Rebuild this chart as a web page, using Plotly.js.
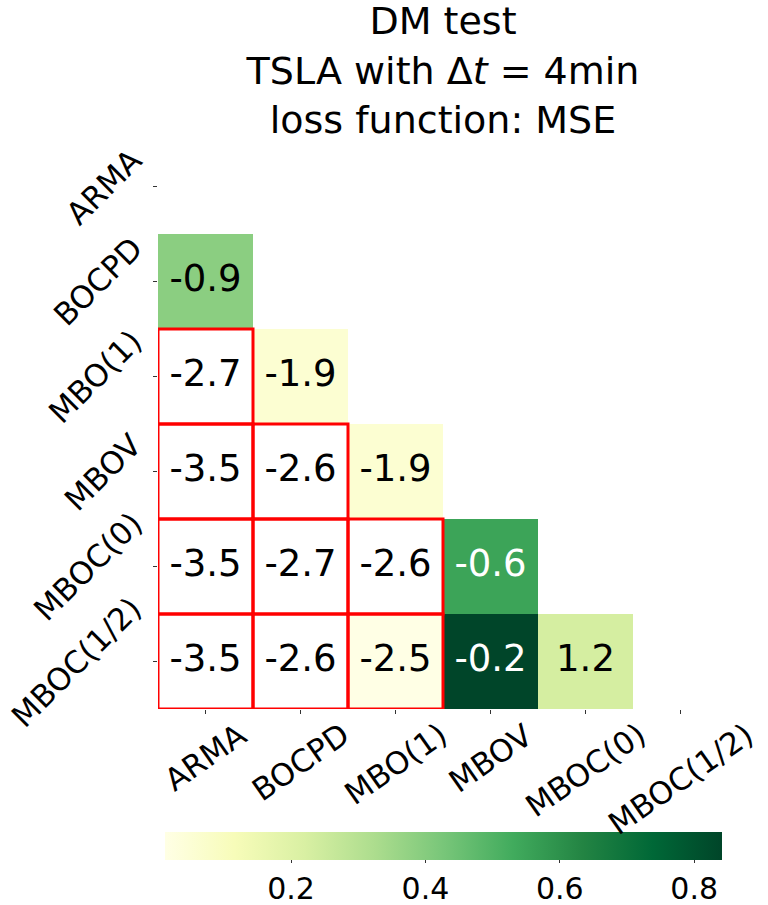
<!DOCTYPE html>
<html>
<head>
<meta charset="utf-8">
<script src="https://cdn.plot.ly/plotly-3.0.1.min.js"></script>
<style>
  html, body { margin: 0; padding: 0; background: #ffffff; }
  #chart { width: 768px; height: 905px; }
</style>
</head>
<body>
<div id="chart"></div>
<script>
// ---- data ----
const models = ['ARMA', 'BOCPD', 'MBO(1)', 'MBOV', 'MBOC(0)', 'MBOC(1/2)'];

// DM statistics, lower triangle (row model vs column model)
const dmBOCPD    = [-0.9];
const dmMBO1     = [-2.7, -1.9];
const dmMBOV     = [-3.5, -2.6, -1.9];
const dmMBOC0    = [-3.5, -2.7, -2.6, -0.6];
const dmMBOChalf = [-3.5, -2.6, -2.5, -0.2, 1.2];

// p-values of the DM test (colour of the cells)
const pBOCPD    = [0.39];
const pMBO1     = [0.007, 0.058];
const pMBOV     = [0.0005, 0.009, 0.058];
const pMBOC0    = [0.0005, 0.007, 0.009, 0.55];
const pMBOChalf = [0.0005, 0.009, 0.013, 0.842, 0.23];

const colorbarTicks = [0.2, 0.4, 0.6, 0.8];

// ---- build ----
const dmRows = [[], dmBOCPD, dmMBO1, dmMBOV, dmMBOC0, dmMBOChalf];
const pRows  = [[], pBOCPD, pMBO1, pMBOV, pMBOC0, pMBOChalf];
const n = models.length;
const idx = models.map((_, i) => i);

const WHITE_BELOW = 0.01;  // cells left blank
const SIG_LEVEL = 0.05;    // red frame

const z = [];
for (let i = 0; i < n; i++) {
  const row = [];
  for (let j = 0; j < n; j++) {
    const p = (j < i) ? pRows[i][j] : null;
    row.push(p !== null && p >= WHITE_BELOW ? p : null);
  }
  z.push(row);
}
const shown = z.flat().filter(v => v !== null);
const zmin = Math.min(...shown), zmax = Math.max(...shown);

const YlGn = [
  [0.0, '#ffffe5'], [0.125, '#f7fcb9'], [0.25, '#d9f0a3'], [0.375, '#addd8e'],
  [0.5, '#78c679'], [0.625, '#41ab5d'], [0.75, '#238443'], [0.875, '#006837'],
  [1.0, '#004529']
];

const tx = [], ty = [], tt = [], tc = [];
const shapes = [];
for (let i = 0; i < n; i++) {
  for (let j = 0; j < i; j++) {
    tx.push(j); ty.push(i);
    tt.push(dmRows[i][j].toFixed(1));
    const v = z[i][j];
    const frac = v === null ? 0 : (v - zmin) / (zmax - zmin);
    tc.push(frac > 0.55 ? '#ffffff' : '#000000');
    if (pRows[i][j] < SIG_LEVEL) {
      shapes.push({
        type: 'rect', xref: 'x', yref: 'y',
        x0: j - 0.5, x1: j + 0.5, y0: i - 0.5, y1: i + 0.5,
        line: { color: '#ff0000', width: 3 }, layer: 'above'
      });
    }
  }
}

const FONT = 'DejaVu Sans, Liberation Sans, sans-serif';

const heat = {
  type: 'heatmap',
  x: idx, y: idx, z: z,
  zmin: zmin, zmax: zmax,
  colorscale: YlGn,
  hoverongaps: false,
  colorbar: {
    orientation: 'h',
    x: 0.5016, xanchor: 'center',
    y: -0.2158, yanchor: 'top',
    len: 0.978, lenmode: 'fraction',
    thickness: 28,
    outlinewidth: 0,
    xpad: 0, ypad: 0,
    tickvals: colorbarTicks,
    ticktext: colorbarTicks.map(v => v.toFixed(1)),
    ticks: 'outside', ticklen: 3, tickcolor: '#333',
    tickfont: { family: FONT, size: 30, color: '#000' }
  }
};

const labels = {
  type: 'scatter', mode: 'text',
  x: tx, y: ty, text: tt,
  textfont: { family: FONT, size: 37, color: tc },
  hoverinfo: 'skip', showlegend: false
};

const annotations = [];
models.forEach((m, k) => {
  annotations.push({
    xref: 'x', yref: 'paper', x: k, y: -0.008,
    text: m, textangle: -35, showarrow: false,
    xanchor: 'center', yanchor: 'top',
    font: { family: FONT, size: 31, color: '#000' }
  });
  annotations.push({
    xref: 'paper', yref: 'y', x: -0.012, y: k,
    text: m, textangle: -45, showarrow: false,
    xanchor: 'right', yanchor: 'middle',
    font: { family: FONT, size: 31, color: '#000' }
  });
});

const layout = {
  width: 768, height: 905,
  margin: { l: 158, r: 40, t: 139, b: 196, autoexpand: false },
  paper_bgcolor: '#ffffff', plot_bgcolor: '#ffffff',
  font: { family: FONT, color: '#000' },
  title: {
    text: 'DM test<br>TSLA with Δ<i>t</i> = 4min<br>loss function: MSE',
    font: { family: FONT, size: 38, color: '#000' },
    xref: 'paper', x: 0.5, xanchor: 'center',
    yref: 'container', y: 0.962, yanchor: 'middle'
  },
  xaxis: {
    range: [-0.5, n - 0.5], tickvals: idx, showticklabels: false,
    ticks: 'outside', ticklen: 4, tickcolor: '#333',
    showgrid: false, zeroline: false, showline: false, fixedrange: true
  },
  yaxis: {
    range: [n - 0.5, -0.5], tickvals: idx, showticklabels: false,
    ticks: 'outside', ticklen: 4, tickcolor: '#333',
    showgrid: false, zeroline: false, showline: false, fixedrange: true
  },
  shapes: shapes,
  annotations: annotations
};

Plotly.newPlot('chart', [heat, labels], layout, { displayModeBar: false, staticPlot: true });
</script>
</body>
</html>
